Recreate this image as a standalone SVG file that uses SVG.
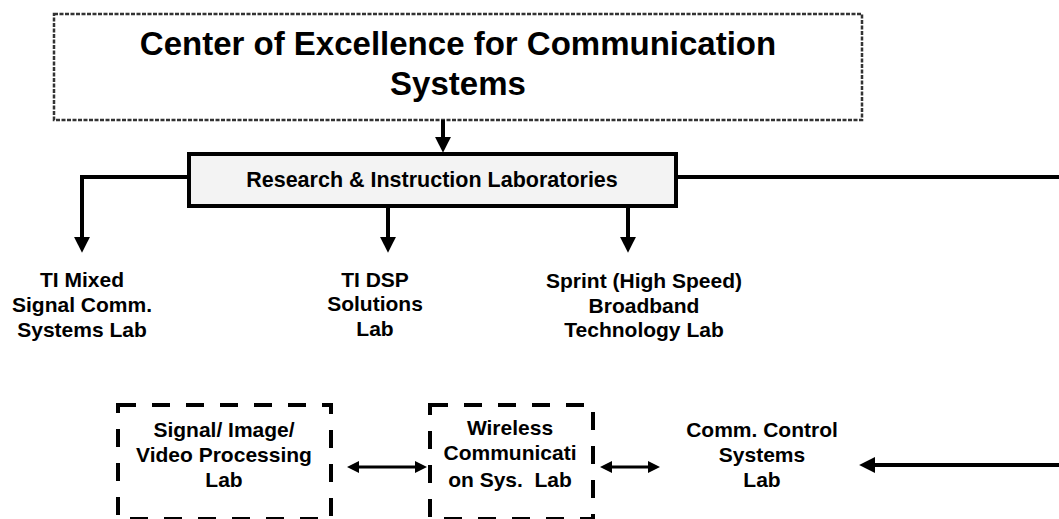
<svg xmlns="http://www.w3.org/2000/svg" width="1059" height="519" viewBox="0 0 1059 519">
<style>
text{font-family:"Liberation Sans",Arial,sans-serif;font-weight:bold;fill:#000;text-anchor:middle;white-space:pre}
.t{font-size:33px}
.l{font-size:21px}
.r{font-size:21.5px}
.conn{fill:none;stroke:#000;stroke-width:4}
.conn2{fill:none;stroke:#000;stroke-width:3}
.dash{fill:none;stroke:#000;stroke-width:4;stroke-dasharray:18 16}
</style>
<defs>
<marker id="ah" markerUnits="userSpaceOnUse" markerWidth="16" markerHeight="16" viewBox="0 0 14 14" refX="8" refY="7" orient="auto">
<path d="M0,0 L14,7 L0,14 z" fill="#000"/>
</marker>
<marker id="ah2" markerUnits="userSpaceOnUse" markerWidth="12" markerHeight="12" viewBox="0 0 12 12" refX="6" refY="6" orient="auto-start-reverse">
<path d="M0,0 L12,6 L0,12 z" fill="#000"/>
</marker>
</defs>
<rect width="1059" height="519" fill="#fff"/>
<g id="center">
<rect x="54" y="14" width="808" height="106" fill="#fff" stroke="#333" stroke-width="2.5" stroke-dasharray="4 1.5"/>
<text class="t" x="458" y="55">Center of Excellence for Communication</text>
<text class="t" x="458" y="95">Systems</text>
</g>
<g id="research">
<rect x="189" y="154" width="487" height="52" fill="#f3f3f3" stroke="#000" stroke-width="4"/>
<text class="r" x="432" y="187">Research &amp; Instruction Laboratories</text>
</g>
<g id="ti-mixed">
<text class="l" x="82" y="287">TI Mixed</text>
<text class="l" x="82" y="312">Signal Comm.</text>
<text class="l" x="82" y="337">Systems Lab</text>
</g>
<g id="ti-dsp">
<text class="l" x="375" y="287">TI DSP</text>
<text class="l" x="375" y="311">Solutions</text>
<text class="l" x="375" y="336">Lab</text>
</g>
<g id="sprint">
<text class="l" x="644" y="288">Sprint (High Speed)</text>
<text class="l" x="644" y="313">Broadband</text>
<text class="l" x="644" y="337">Technology Lab</text>
</g>
<g id="signal-lab">
<rect class="dash" x="118" y="405" width="213" height="114"/>
<text class="l" x="224" y="437">Signal/ Image/</text>
<text class="l" x="224" y="462">Video Processing</text>
<text class="l" x="224" y="487">Lab</text>
</g>
<g id="wireless-lab">
<rect class="dash" x="430" y="405" width="163" height="114"/>
<text class="l" x="510" y="435">Wireless</text>
<text class="l" x="510" y="460">Communicati</text>
<text class="l" x="510" y="487">on Sys.  Lab</text>
</g>
<g id="control-lab">
<text class="l" x="762" y="437">Comm. Control</text>
<text class="l" x="762" y="462">Systems</text>
<text class="l" x="762" y="487">Lab</text>
</g>
<g id="connectors">
<path class="conn" d="M443,120 V146" marker-end="url(#ah)"/>
<path class="conn" d="M189,177 H82 V246" marker-end="url(#ah)"/>
<path class="conn" d="M388,206 V246" marker-end="url(#ah)"/>
<path class="conn" d="M628,206 V246" marker-end="url(#ah)"/>
<path class="conn" d="M676,177 H1059"/>
<path class="conn" d="M1059,465 H866" marker-end="url(#ah)"/>
<path class="conn2" d="M353,467 H421" marker-start="url(#ah2)" marker-end="url(#ah2)"/>
<path class="conn2" d="M606,467 H654" marker-start="url(#ah2)" marker-end="url(#ah2)"/>
</g>
</svg>
